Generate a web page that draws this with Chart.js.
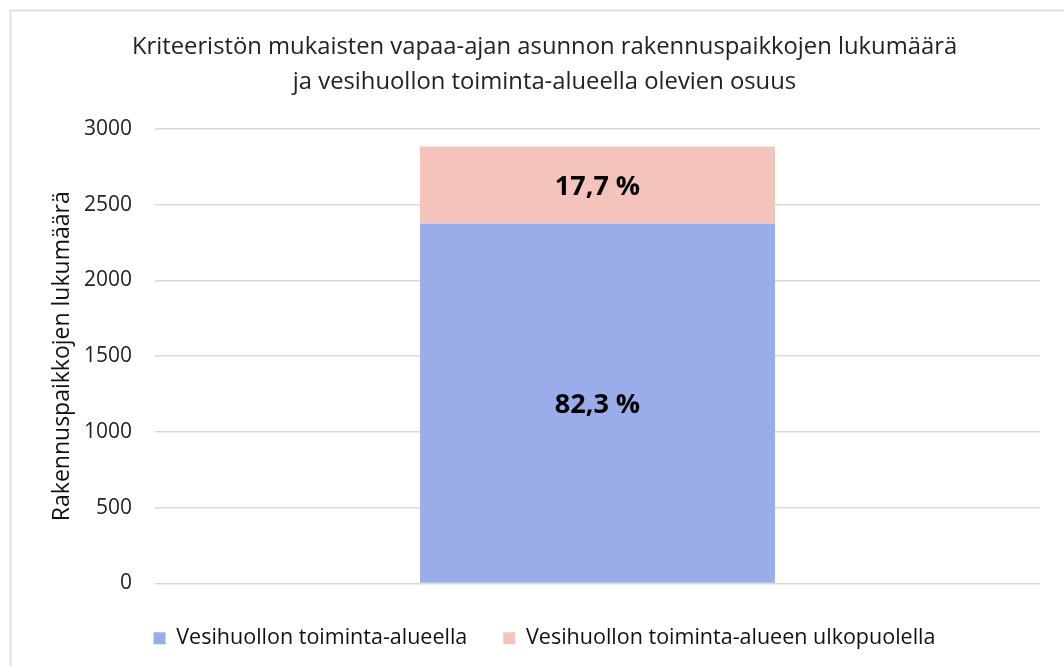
<!DOCTYPE html>
<html>
<head>
<meta charset="utf-8">
<script src="https://cdn.jsdelivr.net/npm/chart.js@4.4.1/dist/chart.umd.min.js"></script>
<style>
html,body{margin:0;padding:0;background:#fff;}
#wrap{position:relative;width:1064px;height:666px;}
</style>
</head>
<body>
<div id="wrap"><canvas id="c" width="1064" height="666"></canvas></div>
<script>
const categories = [''];
const seriesNames = ['Vesihuollon toiminta-alueella', 'Vesihuollon toiminta-alueen ulkopuolella'];
const insideValues = [2374];
const outsideValues = [511];
const titleLines = ['Kriteeristön mukaisten vapaa-ajan asunnon rakennuspaikkojen lukumäärä', 'ja vesihuollon toiminta-alueella olevien osuus'];
const yAxisTitle = 'Rakennuspaikkojen lukumäärä';

const FONT = '"Open Sans", sans-serif';

const frame = {
  id: 'frame',
  beforeDraw(chart) {
    const ctx = chart.ctx;
    ctx.save();
    ctx.fillStyle = '#fff';
    ctx.fillRect(0, 0, chart.width, chart.height);
    ctx.strokeStyle = '#d9d9d9';
    ctx.lineWidth = 1.5;
    ctx.beginPath();
    ctx.moveTo(10.5, chart.height + 2);
    ctx.lineTo(10.5, 10.5);
    ctx.lineTo(chart.width + 2, 10.5);
    ctx.stroke();
    ctx.restore();
  }
};

const pctLabels = {
  id: 'pctLabels',
  afterDatasetsDraw(chart) {
    const ctx = chart.ctx;
    ctx.save();
    ctx.font = 'bold 27px ' + FONT;
    ctx.fillStyle = '#000';
    ctx.textAlign = 'center';
    ctx.textBaseline = 'middle';
    chart.data.labels.forEach((_, i) => {
      let total = 0;
      chart.data.datasets.forEach(ds => total += ds.data[i]);
      chart.data.datasets.forEach((ds, di) => {
        const el = chart.getDatasetMeta(di).data[i];
        const pct = (ds.data[i] / total * 100).toFixed(1).replace('.', ',') + ' %';
        const cy = (el.y + el.base) / 2 + 2;
        ctx.fillText(pct, el.x, cy);
      });
    });
    ctx.restore();
  }
};

new Chart(document.getElementById('c'), {
  type: 'bar',
  data: {
    labels: categories,
    datasets: [
      { label: seriesNames[0], data: insideValues, backgroundColor: '#9BACEB', barPercentage: 0.401, categoryPercentage: 1 },
      { label: seriesNames[1], data: outsideValues, backgroundColor: '#F4C3BB', barPercentage: 0.401, categoryPercentage: 1 }
    ]
  },
  options: {
    responsive: false,
    animation: false,
    layout: { padding: { left: 49, right: 24, top: 30, bottom: 7 } },
    plugins: {
      title: {
        display: true,
        text: titleLines,
        color: '#222',
        font: { family: FONT, size: 23.8, weight: 'normal', lineHeight: 1.47 },
        padding: { top: 0, bottom: 29 }
      },
      legend: {
        position: 'bottom',
        labels: {
          color: '#111',
          font: { family: FONT, size: 21.5 },
          boxWidth: 12, boxHeight: 12,
          padding: 36
        }
      },
      tooltip: { enabled: false }
    },
    scales: {
      x: {
        stacked: true,
        grid: { display: false },
        border: { display: false },
        ticks: { display: false }
      },
      y: {
        stacked: true,
        min: 0, max: 3000,
        afterFit: scale => { scale.width = 106; },
        ticks: { stepSize: 500, color: '#222', font: { family: FONT, size: 21 }, padding: 23, callback: v => String(v) },
        grid: { color: '#d9d9d9', lineWidth: 1.5, drawTicks: false },
        border: { display: false },
        title: { display: true, text: yAxisTitle, color: '#111', font: { family: FONT, size: 23 }, padding: { top: 0, bottom: 8 } }
      }
    }
  },
  plugins: [frame, pctLabels]
});
</script>
</body>
</html>
